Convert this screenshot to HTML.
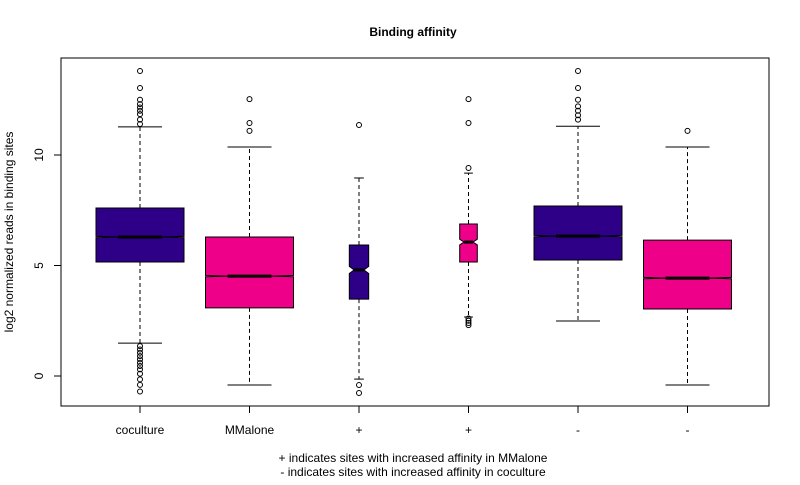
<!DOCTYPE html>
<html><head><meta charset="utf-8"><style>
body{margin:0;background:#fff;}
svg text{font-family:"Liberation Sans",Arial,sans-serif;font-size:12px;fill:#000;}
</style></head><body>
<svg width="800" height="480" viewBox="0 0 800 480">
<rect width="800" height="480" fill="#fff"/>
<text x="413" y="36" text-anchor="middle" font-weight="bold" style="font-weight:bold">Binding affinity</text>
<rect x="61" y="58" width="708" height="348" fill="none" stroke="#000"/>
<g id="plot"></g>
<text transform="translate(13,232) rotate(-90)" text-anchor="middle">log2 normalized reads in binding sites</text>
<text x="413" y="462" text-anchor="middle">+ indicates sites with increased affinity in MMalone</text>
<text x="413" y="476" text-anchor="middle">- indicates sites with increased affinity in coculture</text>
</svg>
<script>
const categories=["coculture","MMalone","+","+","-","-"];
const q1=[5.16,3.08,3.48,5.16,5.25,3.03];
const medians=[6.29,4.52,4.8,6.06,6.33,4.43];
const q3=[7.6,6.29,5.93,6.88,7.69,6.15];
const whiskLo=[1.49,-0.41,-0.14,2.67,2.49,-0.41];
const whiskHi=[11.27,10.36,8.96,9.18,11.3,10.36];
const notchHalf=[0.03,0.03,0.16,0.13,0.03,0.03];
const outliers=[[13.8,13.03,12.5,12.3,12.15,12.0,11.85,11.6,11.4,1.35,1.2,1.05,0.9,0.75,0.6,0.45,0.3,0.1,-0.15,-0.4,-0.7],[12.53,11.45,11.09],[11.36,-0.41,-0.77],[12.53,11.45,9.41,2.6,2.5,2.4,2.3],[13.8,13.03,12.5,12.2,12.0,11.8,11.6],[11.09]];
const boxWidths=[1,1,0.22,0.2,1,1];
const colors=["#2E0088","#EE0088","#2E0088","#EE0088","#2E0088","#EE0088"];
const yTicks=[0,5,10];

const NS="http://www.w3.org/2000/svg";
const g=document.getElementById('plot');
const y=v=>376-22.1*v;
const x=i=>140+109.5*i;
function mk(t,a,p){const e=document.createElementNS(NS,t);for(const k in a)e.setAttribute(k,a[k]);(p||g).appendChild(e);return e;}
// y axis
const ax=mk('line',{x1:61,x2:61,y1:y(0),y2:y(10),stroke:'#000'});


yTicks.forEach(t=>{
 const l=mk('line',{x1:54,x2:61,y1:y(t),y2:y(t),stroke:'#000'});
 
 
 const tx=mk('text',{transform:`translate(43,${y(t)}) rotate(-90)`,'text-anchor':'middle'});
 tx.textContent=t;
 
 
});
const xa=mk('line',{x1:x(0),x2:x(5),y1:406,y2:406,stroke:'#000'});


categories.forEach((c,i)=>{
 const cx=x(i), hw=44*boxWidths[i], cap=hw/2;
 const grp=mk('g',{});
 
 
 const tk=mk('line',{x1:cx,x2:cx,y1:406,y2:413,stroke:'#000'},grp);
 
 
 const lb=mk('text',{x:cx,y:434,'text-anchor':'middle'},grp);
 lb.textContent=c;
 
 
 [[q3[i],whiskHi[i]],[q1[i],whiskLo[i]]].forEach(([a,b])=>{
  const w=mk('line',{x1:cx,x2:cx,y1:y(a),y2:y(b),stroke:'#000','stroke-dasharray':'4,3'},grp);
  
  
  const cp=mk('line',{x1:cx-cap,x2:cx+cap,y1:y(b),y2:y(b),stroke:'#000'},grp);
  
  
 });
 const m=medians[i], n=notchHalf[i], ni=hw*0.5;
 const pts=[[cx-hw,y(q1[i])],[cx-hw,y(m-n)],[cx-ni,y(m)],[cx-hw,y(m+n)],[cx-hw,y(q3[i])],[cx+hw,y(q3[i])],[cx+hw,y(m+n)],[cx+ni,y(m)],[cx+hw,y(m-n)],[cx+hw,y(q1[i])]];
 const b=mk('polygon',{points:pts.map(p=>p.join(',')).join(' '),fill:colors[i],stroke:'#000'},grp);
 
 
 const md=mk('line',{x1:cx-ni,x2:cx+ni,y1:y(m),y2:y(m),stroke:'#000','stroke-width':3},grp);
 
 
 outliers[i].forEach(v=>{
  const o=mk('circle',{cx:cx,cy:y(v),r:2.5,fill:'none',stroke:'#000'},grp);
  
  
 });
});
</script>
</body></html>
